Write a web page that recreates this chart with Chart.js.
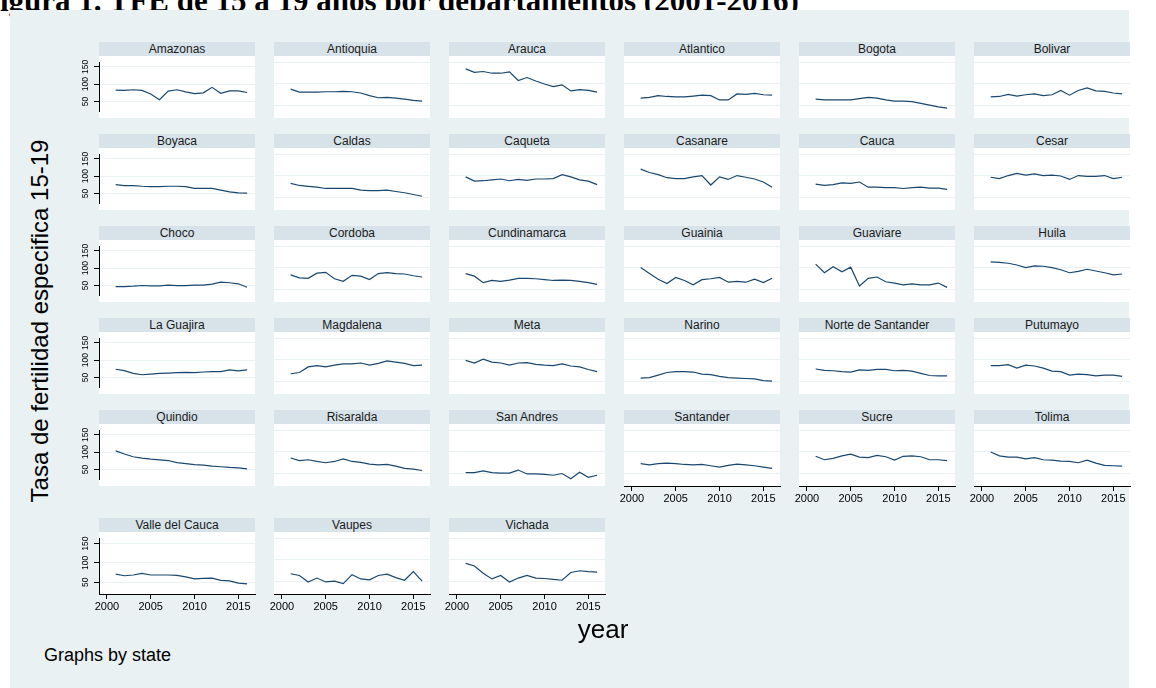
<!DOCTYPE html>
<html>
<head>
<meta charset="utf-8">
<script src="https://cdn.jsdelivr.net/npm/chart.js@4/dist/chart.umd.min.js"></script>
<style>
  html, body { margin: 0; padding: 0; width: 1156px; height: 688px; overflow: hidden; background: #ffffff;
    font-family: "Liberation Sans", Arial, sans-serif; }
  #title { position: absolute; left: -19px; top: -17px; line-height: 31px; font: bold 31px "Liberation Serif", "Times New Roman", serif;
    white-space: nowrap; color: #000; z-index: 0; }
  #bg { position: absolute; left: 10px; top: 10px; width: 1119px; height: 678px; background: #eaf1f3; z-index: 1; }
  .hdr { position: absolute; height: 14px; line-height: 14px; background: #d7e3e9; text-align: center; font-size: 12px;
    color: #1a1a1a; z-index: 2; white-space: nowrap; }
  .plot { position: absolute; background: #ffffff; z-index: 2; }
  canvas { position: absolute; z-index: 3; }
  .lbl { position: absolute; z-index: 4; white-space: nowrap; color: #000; }
</style>
</head>
<body>
<div id="title">Figura 1. TFE de 15 a 19 años por departamentos (2001-2016)</div>
<div id="bg"></div>
<div id="stage"></div>
<script>
// Years and axis ticks
const years = [2001, 2002, 2003, 2004, 2005, 2006, 2007, 2008, 2009, 2010, 2011, 2012, 2013, 2014, 2015, 2016];
const xTicks = [2000, 2005, 2010, 2015];
const yTicks = [50, 100, 150];

// Department names, in panel order
const states = ["Amazonas", "Antioquia", "Arauca", "Atlantico", "Bogota", "Bolivar",
  "Boyaca", "Caldas", "Caqueta", "Casanare", "Cauca", "Cesar",
  "Choco", "Cordoba", "Cundinamarca", "Guainia", "Guaviare", "Huila",
  "La Guajira", "Magdalena", "Meta", "Narino", "Norte de Santander", "Putumayo",
  "Quindio", "Risaralda", "San Andres", "Santander", "Sucre", "Tolima",
  "Valle del Cauca", "Vaupes", "Vichada"];

// Specific fertility rate 15-19 per department, 2001-2016
const amazonas     = [83, 82, 84, 82, 72, 55, 80, 84, 78, 73, 75, 91, 74, 81, 81, 76];
const antioquia    = [87, 80, 80, 80, 81, 81, 82, 81, 78, 72, 67, 68, 66, 64, 61, 59];
const arauca       = [134, 126, 128, 124, 124, 127, 107, 114, 106, 99, 93, 97, 83, 86, 84, 80];
const atlantico    = [66, 68, 72, 70, 69, 69, 71, 73, 72, 62, 62, 76, 75, 77, 74, 73];
const bogota       = [64, 62, 62, 62, 62, 65, 68, 66, 62, 59, 59, 58, 54, 50, 46, 43];
const bolivar      = [69, 70, 75, 71, 74, 76, 72, 74, 84, 73, 84, 90, 83, 82, 78, 76];
const boyaca       = [76, 73, 73, 71, 70, 70, 71, 71, 70, 65, 65, 65, 60, 55, 52, 51];
const caldas       = [82, 77, 75, 73, 70, 70, 70, 70, 66, 65, 65, 66, 63, 60, 56, 52];
const caqueta      = [97, 87, 88, 90, 92, 88, 91, 89, 92, 92, 93, 102, 97, 90, 87, 79];
const casanare     = [115, 107, 102, 95, 93, 93, 97, 100, 78, 97, 91, 100, 96, 92, 85, 73];
const cauca        = [80, 77, 79, 83, 82, 85, 73, 73, 72, 72, 70, 72, 73, 71, 71, 68];
const cesar        = [96, 93, 100, 105, 101, 104, 100, 101, 99, 91, 100, 98, 98, 100, 93, 96];
const choco        = [47, 47, 48, 50, 49, 49, 51, 50, 50, 51, 51, 54, 60, 58, 55, 45];
const cordoba      = [83, 76, 75, 87, 89, 74, 68, 82, 80, 72, 86, 88, 86, 85, 81, 78];
const cundinamarca = [86, 80, 65, 70, 68, 71, 75, 75, 74, 72, 70, 71, 70, 68, 65, 61];
const guainia      = [100, 86, 73, 63, 77, 70, 60, 72, 74, 77, 66, 68, 66, 73, 65, 75];
const guaviare     = [108, 88, 102, 90, 101, 57, 75, 78, 67, 64, 60, 62, 60, 60, 64, 54];
const huila        = [113, 112, 110, 106, 100, 104, 103, 100, 95, 88, 91, 96, 92, 88, 83, 85];
const laGuajira    = [74, 70, 62, 58, 60, 62, 63, 64, 65, 64, 66, 67, 67, 72, 69, 72];
const magdalena    = [67, 70, 83, 86, 83, 87, 90, 90, 92, 87, 91, 97, 94, 91, 86, 87];
const meta         = [98, 92, 101, 94, 92, 87, 92, 93, 89, 87, 86, 90, 85, 83, 77, 72];
const narino       = [57, 58, 64, 70, 72, 72, 71, 66, 65, 61, 58, 57, 56, 55, 51, 50];
const norteSantander = [78, 75, 74, 72, 71, 76, 75, 77, 77, 74, 75, 73, 68, 63, 62, 62];
const putumayo     = [86, 86, 88, 80, 87, 85, 80, 73, 72, 64, 66, 65, 62, 64, 64, 61];
const quindio      = [104, 95, 87, 83, 80, 78, 76, 70, 67, 64, 63, 60, 58, 56, 55, 52];
const risaralda    = [85, 79, 81, 77, 74, 77, 83, 77, 75, 71, 69, 70, 66, 61, 59, 56];
const sanAndres    = [51, 51, 55, 51, 50, 50, 57, 48, 48, 47, 45, 49, 37, 52, 40, 45];
const santander    = [72, 69, 72, 73, 72, 70, 69, 70, 67, 64, 68, 71, 69, 67, 64, 61];
const sucre        = [89, 81, 84, 90, 94, 87, 86, 91, 88, 80, 89, 90, 88, 81, 81, 79];
const tolima       = [99, 90, 87, 87, 83, 86, 81, 80, 78, 77, 74, 80, 73, 68, 67, 66];
const valleCauca   = [71, 67, 69, 73, 69, 69, 69, 68, 64, 59, 60, 61, 55, 54, 48, 46];
const vaupes       = [67, 63, 48, 57, 48, 50, 44, 65, 55, 53, 63, 66, 58, 52, 72, 50];
const vichada      = [91, 85, 68, 55, 63, 48, 57, 63, 57, 56, 54, 52, 70, 74, 72, 71];

const series = [amazonas, antioquia, arauca, atlantico, bogota, bolivar,
  boyaca, caldas, caqueta, casanare, cauca, cesar,
  choco, cordoba, cundinamarca, guainia, guaviare, huila,
  laGuajira, magdalena, meta, narino, norteSantander, putumayo,
  quindio, risaralda, sanAndres, santander, sucre, tolima,
  valleCauca, vaupes, vichada];

// Grid of small panels
const colLeft = [99, 274, 449, 624, 799, 974];
const rowTop = [42, 134, 226, 318, 410, 518];
const PW = 156, HH = 14, PH = 62;
const LINE = '#1a476f', GRID = '#eaf2f3', AXIS = '#000000';

const stage = document.getElementById('stage');

function addDiv(cls, style, text) {
  const d = document.createElement('div');
  d.className = cls;
  Object.assign(d.style, style);
  if (text !== undefined) d.textContent = text;
  stage.appendChild(d);
  return d;
}

states.forEach((name, idx) => {
  const r = Math.floor(idx / 6), c = idx % 6;
  const left = colLeft[c], top = rowTop[r];
  const firstCol = c === 0;
  const bottom = r === 5 || (r === 4 && c >= 3);

  addDiv('hdr', { left: left + 'px', top: top + 'px', width: PW + 'px' }, name);
  addDiv('plot', { left: left + 'px', top: (top + HH) + 'px', width: PW + 'px', height: PH + 'px' });

  const padL = 30, padR = 8, xH = bottom ? 26 : 0;
  const cv = document.createElement('canvas');
  cv.width = padL + PW + padR;
  cv.height = PH + xH;
  cv.style.left = (left - padL) + 'px';
  cv.style.top = (top + HH) + 'px';
  stage.appendChild(cv);

  new Chart(cv, {
    type: 'line',
    data: {
      datasets: [{
        data: years.map((y, i) => ({ x: y, y: series[idx][i] })),
        borderColor: LINE,
        borderWidth: 1.2,
        pointRadius: 0,
        tension: 0,
        fill: false
      }]
    },
    options: {
      responsive: false,
      animation: false,
      devicePixelRatio: 1,
      events: [],
      layout: { padding: { left: 0, right: padR, top: 0, bottom: 0 } },
      plugins: { legend: { display: false }, tooltip: { enabled: false }, title: { display: false } },
      scales: {
        x: {
          type: 'linear', min: 1999.1, max: 2016.9,
          display: bottom,
          grid: { drawOnChartArea: false, drawTicks: true, tickLength: 5, tickColor: AXIS, tickWidth: 1 },
          border: { display: true, color: AXIS, width: 1 },
          ticks: { autoSkip: false, maxRotation: 0, minRotation: 0, padding: 1, color: '#000',
            font: { family: '"Liberation Sans", Arial, sans-serif', size: 11 },
            callback: v => String(v) },
          afterBuildTicks: s => { s.ticks = xTicks.map(v => ({ value: v })); },
          afterFit: s => { s.height = xH; }
        },
        y: {
          type: 'linear', min: 20, max: 164,
          grid: { color: GRID, lineWidth: 1, drawTicks: firstCol, tickLength: 5, tickColor: AXIS },
          border: { display: firstCol, color: AXIS, width: 1 },
          ticks: { display: firstCol, minRotation: 90, maxRotation: 90, crossAlign: 'center', padding: 1, color: '#000',
            font: { family: '"Liberation Sans", Arial, sans-serif', size: 8.5 },
            callback: v => String(v) },
          afterBuildTicks: s => { s.ticks = yTicks.map(v => ({ value: v })); },
          afterFit: s => { s.width = padL; }
        }
      }
    }
  });
});

// Axis titles and note
addDiv('lbl', { left: '40px', top: '321px', fontSize: '24px', transform: 'translate(-50%, -50%) rotate(-90deg)' },
  'Tasa de fertilidad especifica 15-19');
addDiv('lbl', { left: '603px', top: '639px', fontSize: '26px', transform: 'translate(-50%, -80%)' }, 'year');
addDiv('lbl', { left: '44px', top: '662px', fontSize: '18px', transform: 'translate(0, -80%)' }, 'Graphs by state');
</script>
</body>
</html>
